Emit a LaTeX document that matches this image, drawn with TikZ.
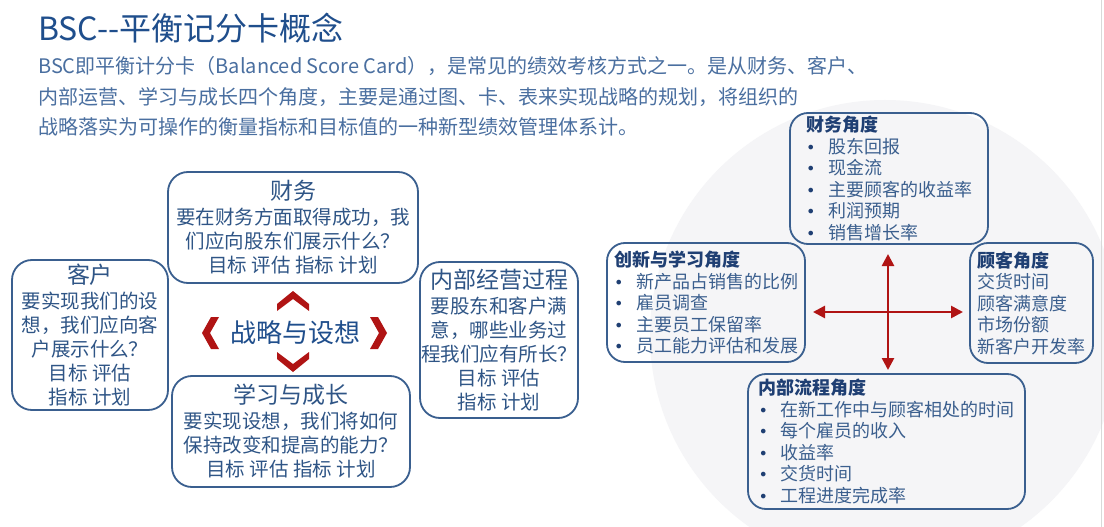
\documentclass[tikz,border=0pt]{standalone}
\usepackage{fontspec}
\setmainfont{Noto Sans CJK SC}
\newfontfamily\dejavu{DejaVu Sans}
\usetikzlibrary{arrows.meta}
\definecolor{titleblue}{HTML}{1F4E8C}
\definecolor{parablue}{HTML}{4A6FA0}
\definecolor{boxline}{HTML}{3A5F8F}
\definecolor{boxtext}{HTML}{2F5586}
\definecolor{rtitle}{HTML}{1F3F73}
\definecolor{rtext}{HTML}{3B5F8E}
\definecolor{cred}{HTML}{B01414}
\definecolor{swirl}{HTML}{F5F5F7}
\newcommand\bul{\makebox[22pt][l]{{\dejavu\fontsize{16}{16}\selectfont\color{rtitle}•}}}
\tikzset{
  card/.style={draw=boxline, line width=1.8pt, rounded corners=20pt, inner sep=0pt,
    align=center, text=boxtext, font=\fontsize{19.5}{24}\selectfont},
  rcard/.style={draw=boxline, line width=1.8pt, rounded corners=18pt, inner sep=0pt,
    align=left, text=rtext, font=\fontsize{18}{21.5}\selectfont},
  paraline/.style={anchor=base west, inner sep=0pt, text=parablue, font=\fontsize{20}{24}\selectfont},
  redarrow/.style={draw=cred, line width=2.6pt, {Triangle[width=12pt,length=12pt]}-{Triangle[width=12pt,length=12pt]}},
  chev/.style={fill=cred}
}
\begin{document}
\begin{tikzpicture}[x=1pt,y=-1pt]
\useasboundingbox (0,0) rectangle (1104,527);
\fill[white] (0,0) rectangle (1104,527);
% faint background globe
\fill[swirl] (885,335) circle (235);
\draw[gray!30, line width=1pt] (1101,0) -- (1101,527);

% heading and paragraph
\node[anchor=base west, inner sep=0pt, text=titleblue, font=\fontsize{32}{36}\selectfont] (title) at (38,41) {BSC-{}-平衡记分卡概念};
\node[paraline] (p1) at (38,74) {BSC即平衡计分卡（Balanced Score Card），是常见的绩效考核方式之一。是从财务、客户、};
\node[paraline] (p2) at (38,104) {内部运营、学习与成长四个角度，主要是通过图、卡、表来实现战略的规划，将组织的};
\node[paraline] (p3) at (38,134) {战略落实为可操作的衡量指标和目标值的一种新型绩效管理体系计。};

% left group
\node[card, minimum width=250, minimum height=111] (caiwu) at (293,227.5)
  {{\fontsize{23}{23}\selectfont 财务}\\[1pt]要在财务方面取得成功，我\\们应向股东们展示什么？\\目标 评估 指标 计划};
\node[card, minimum width=156, minimum height=150] (kehu) at (90,335)
  {{\fontsize{23}{23}\selectfont 客户}\\[1pt]要实现我们的设\\想，我们应向客\\户展示什么？\\目标 评估\\指标 计划};
\node[card, minimum width=158, minimum height=156] (neibu) at (499,340)
  {{\fontsize{23}{23}\selectfont 内部经营过程}\\[1pt]要股东和客户满\\意，哪些业务过\\程我们应有所长？\\目标 评估\\指标 计划};
\node[card, minimum width=238, minimum height=111] (xuexi) at (291,431.5)
  {{\fontsize{23}{23}\selectfont 学习与成长}\\[1pt]要实现设想，我们将如何\\保持改变和提高的能力？\\目标 评估 指标 计划};

\node[inner sep=0pt, text=titleblue, font=\fontsize{26}{30}\selectfont] (strat) at (295,333) {战略与设想};
% chevrons
\fill[chev] (277,304) -- (293,291) -- (309,304) -- (309,311) -- (293,299) -- (277,311) -- cycle;
\fill[chev] (277,352) -- (293,364) -- (309,352) -- (309,359) -- (293,372) -- (277,359) -- cycle;
\fill[chev] (219,317) -- (211,317) -- (202,333) -- (211,349) -- (219,349) -- (210,333) -- cycle;
\fill[chev] (370,317) -- (378,317) -- (387,333) -- (378,349) -- (370,349) -- (379,333) -- cycle;

% right group
\node[rcard, minimum width=198, minimum height=131] (rcw) at (889,178.5)
  {{\bfseries\color{rtitle}财务角度}\\\bul 股东回报\\\bul 现金流\\\bul 主要顾客的收益率\\\bul 利润预期\\\bul 销售增长率};
\node[rcard, minimum width=198, minimum height=119] (rcx) at (706,302.5)
  {{\bfseries\color{rtitle}创新与学习角度}\\\bul 新产品占销售的比例\\\bul 雇员调查\\\bul 主要员工保留率\\\bul 员工能力评估和发展};
\node[rcard, minimum width=123, minimum height=120] (rgk) at (1031.5,303)
  {{\bfseries\color{rtitle}顾客角度}\\交货时间\\顾客满意度\\市场份额\\新客户开发率};
\node[rcard, minimum width=277, minimum height=135] (rnb) at (886.5,441.5)
  {{\bfseries\color{rtitle}内部流程角度}\\\bul 在新工作中与顾客相处的时间\\\bul 每个雇员的收入\\\bul 收益率\\\bul 交货时间\\\bul 工程进度完成率};

% cross arrows
\coordinate (vt) at (888,254);
\coordinate (vb) at (888,370);
\coordinate (hl) at (813,312);
\coordinate (hr) at (963,312);
\draw[redarrow] (vt) -- (vb);
\draw[redarrow] (hl) -- (hr);
\end{tikzpicture}
\end{document}
